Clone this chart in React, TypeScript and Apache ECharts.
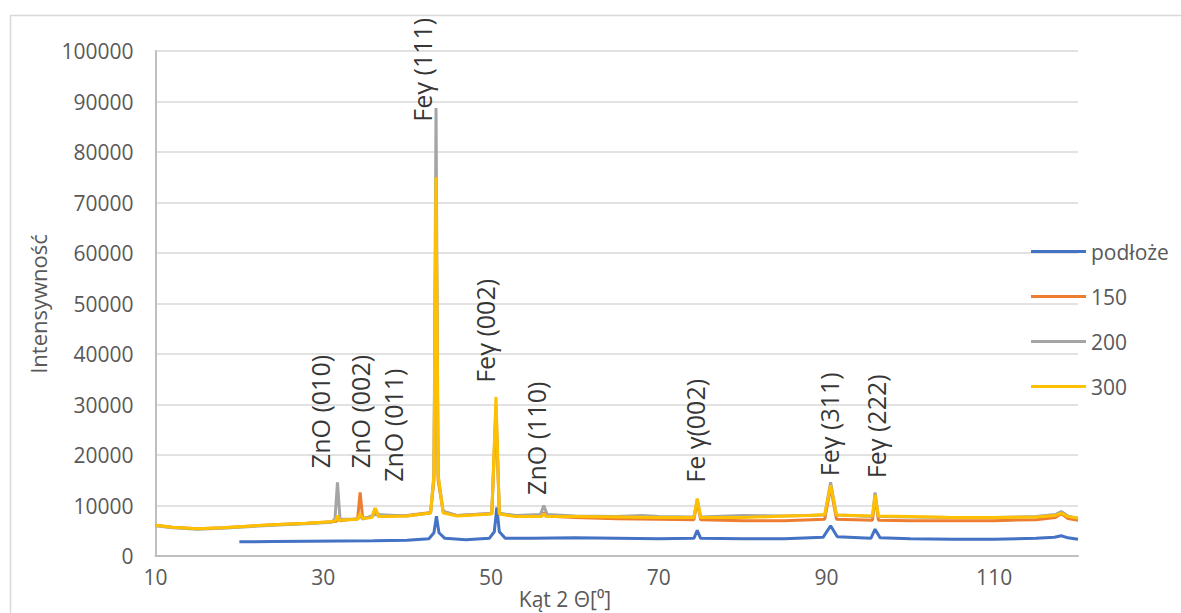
import React, { useEffect, useRef } from "react";
import * as echarts from "echarts";

const seriesNames = ["podłoże", "150", "200", "300"];
const seriesColors = ["#4472C4", "#ED7D31", "#A5A5A5", "#FFC000"];

const podloze = [
  [20, 2800], [24, 2850], [28, 2900], [32, 2950], [36, 3000], [40, 3100], [42.6, 3400], [43.2, 4600], [43.5, 7900], [43.8, 4600], [44.5, 3500], [47, 3200], [49.8, 3500], [50.4, 4800], [50.7, 9600], [51.0, 4800], [51.7, 3500], [55, 3500], [60, 3600], [65, 3500], [70, 3400], [74.2, 3500], [74.6, 5100], [75.0, 3500], [80, 3400], [85, 3400], [89.6, 3700], [90.5, 6000], [91.3, 3800], [95.3, 3500], [95.8, 5300], [96.4, 3600], [100, 3400], [105, 3300], [110, 3300], [115, 3500], [117.2, 3700], [118, 4000], [118.8, 3600], [120, 3300],
];

const s150 = [
  [10, 6100], [12, 5700], [15, 5400], [18, 5600], [21, 5900], [24, 6200], [28, 6500], [31, 6800], [31.6, 6900], [31.8, 7400], [32.0, 7000], [34.1, 7400], [34.4, 12600], [34.7, 7500], [35.8, 7700], [36.2, 9400], [36.6, 7800], [40, 8000], [42.8, 8600], [43.2, 15000], [43.45, 72000], [43.7, 15000], [44.3, 8800], [46, 8000], [50.1, 8400], [50.6, 28500], [51.0, 8400], [53, 7900], [56, 7900], [56.3, 8600], [56.6, 7900], [60, 7600], [65, 7400], [70, 7300], [74.2, 7200], [74.6, 10800], [75.0, 7200], [80, 7000], [85, 7000], [89.8, 7300], [90.5, 13600], [91.2, 7300], [95.5, 7100], [95.8, 11800], [96.2, 7100], [100, 7000], [105, 7000], [110, 7000], [115, 7200], [117.3, 7600], [118, 8400], [118.8, 7400], [120, 7100],
];

const s200 = [
  [10, 6000], [12, 5600], [15, 5300], [18, 5500], [21, 5800], [24, 6100], [28, 6400], [31, 6700], [31.4, 7300], [31.7, 14600], [32.0, 7300], [34.1, 7300], [34.4, 7900], [34.7, 7300], [36.2, 8200], [40, 7900], [42.8, 8500], [43.2, 16000], [43.45, 88700], [43.7, 16000], [44.3, 8800], [46, 8000], [50.1, 8400], [50.6, 30000], [51.0, 8400], [53, 8000], [55.9, 8200], [56.3, 10000], [56.7, 8200], [60, 7900], [65, 7800], [68, 8000], [70, 7800], [74.2, 7700], [74.6, 11200], [75.0, 7700], [80, 8000], [85, 7900], [89.8, 8100], [90.5, 14600], [91.2, 8100], [95.5, 7800], [95.8, 12600], [96.2, 7800], [100, 7700], [105, 7600], [110, 7600], [115, 7800], [117.3, 8200], [118, 8800], [118.8, 7900], [120, 7500],
];

const s300 = [
  [10, 6100], [12, 5700], [15, 5400], [18, 5600], [21, 5900], [24, 6200], [28, 6500], [31, 6800], [31.5, 7000], [31.7, 8000], [31.9, 7100], [34.1, 7300], [34.4, 8400], [34.7, 7400], [35.8, 7600], [36.2, 9500], [36.6, 7800], [40, 7900], [42.8, 8500], [43.2, 16000], [43.45, 75000], [43.7, 16000], [44.3, 8500], [46, 7900], [50.1, 8300], [50.6, 31500], [51.0, 8300], [53, 7800], [56, 7800], [56.3, 8300], [56.6, 7800], [60, 7800], [65, 7700], [70, 7600], [74.2, 7600], [74.6, 11400], [75.0, 7600], [80, 7600], [85, 7900], [88, 8000], [89.8, 8200], [90.5, 14000], [91.2, 8100], [95.5, 7900], [95.8, 12100], [96.2, 7900], [100, 7800], [105, 7600], [110, 7600], [115, 7700], [117.3, 8000], [118, 8500], [118.8, 7800], [120, 7500],
];

const peakLabels = [
  [29.6, 17400, "ZnO (010)"],
  [34.4, 17400, "ZnO (002)"],
  [38.3, 14700, "ZnO (011)"],
  [41.8, 86000, "Feγ (111)"],
  [49.3, 34300, "Feγ (002)"],
  [55.4, 12100, "ZnO (110)"],
  [74.3, 14500, "Fe γ(002)"],
  [90.3, 15800, "Feγ (311)"],
  [95.9, 15400, "Feγ (222)"],
];

const xTicks = { min: 10, max: 120, interval: 20 };
const yTicks = { min: 0, max: 100000, interval: 10000 };

const FONT = "'Open Sans', 'Noto Sans', sans-serif";

export default function App() {
  const ref = useRef<HTMLDivElement>(null);
  useEffect(() => {
    if (!ref.current) return;
    const chart = echarts.init(ref.current, null, { renderer: "svg" });
    const dataSets = [podloze, s150, s200, s300];
    chart.setOption({
      animation: false,
      backgroundColor: "#ffffff",
      grid: { left: 155.5, right: 103, top: 51, bottom: 57, containLabel: false },
      legend: {
        data: seriesNames,
        orient: "vertical",
        left: 1026,
        top: 236,
        icon: "rect",
        itemWidth: 55,
        itemHeight: 3,
        itemGap: 24,
        textStyle: { color: "#595959", fontSize: 21, fontFamily: FONT },
      },
      xAxis: {
        type: "value",
        min: xTicks.min,
        max: xTicks.max,
        interval: xTicks.interval,
        axisLine: { show: true, onZero: false, lineStyle: { color: "#bfbfbf", width: 2 } },
        axisTick: { show: false },
        splitLine: { show: false },
        axisLabel: {
          showMaxLabel: false,
          color: "#595959",
          fontSize: 21,
          fontFamily: FONT,
          margin: 10,
          formatter: (v: number) => String(v),
        },
      },
      yAxis: {
        type: "value",
        min: yTicks.min,
        max: yTicks.max,
        interval: yTicks.interval,
        axisLine: { show: true, lineStyle: { color: "#bfbfbf", width: 2 } },
        axisTick: { show: false },
        splitLine: { show: true, lineStyle: { color: "#d9d9d9", width: 1.5 } },
        axisLabel: {
          color: "#595959",
          fontSize: 21,
          fontFamily: FONT,
          margin: 22,
          formatter: (v: number) => String(v),
        },
      },
      graphic: [
        {
          type: "rect",
          shape: { x: 10.5, y: 15.5, width: 1300, height: 800 },
          style: { fill: "none", stroke: "#d9d9d9", lineWidth: 1.5 },
          silent: true,
          z: -1,
        },
        {
          type: "text",
          x: 38,
          y: 304,
          rotation: Math.PI / 2,
          style: {
            text: "Intensywność",
            fill: "#595959",
            fontSize: 22,
            fontFamily: FONT,
            align: "center",
            verticalAlign: "middle",
          },
        },
        {
          type: "text",
          x: 565,
          y: 599,
          style: {
            text: "Kąt 2 Θ[⁰]",
            fill: "#595959",
            fontSize: 21,
            fontFamily: FONT,
            align: "center",
            verticalAlign: "middle",
          },
        },
      ],
      series: [
        ...seriesNames.map((name, i) => ({
          name,
          type: "line",
          data: dataSets[i],
          showSymbol: false,
          symbol: "none",
          lineStyle: { color: seriesColors[i], width: 3 },
          itemStyle: { color: seriesColors[i] },
          z: 2 + i,
        })),
        {
          name: "labels",
          type: "scatter",
          symbolSize: 0,
          silent: true,
          z: 10,
          data: peakLabels.map((p) => ({ value: [p[0], p[1]], name: p[2] })),
          label: {
            show: true,
            position: "inside",
            rotate: 90,
            align: "left",
            verticalAlign: "middle",
            formatter: (pp: any) => pp.name,
            color: "#000000",
            fontSize: 25,
            fontFamily: FONT,
          },
        },
      ],
    });
    return () => chart.dispose();
  }, []);
  return (
    <div
      ref={ref}
      style={{ position: "fixed", left: 0, top: 0, width: 1181, height: 613 }}
    />
  );
}
